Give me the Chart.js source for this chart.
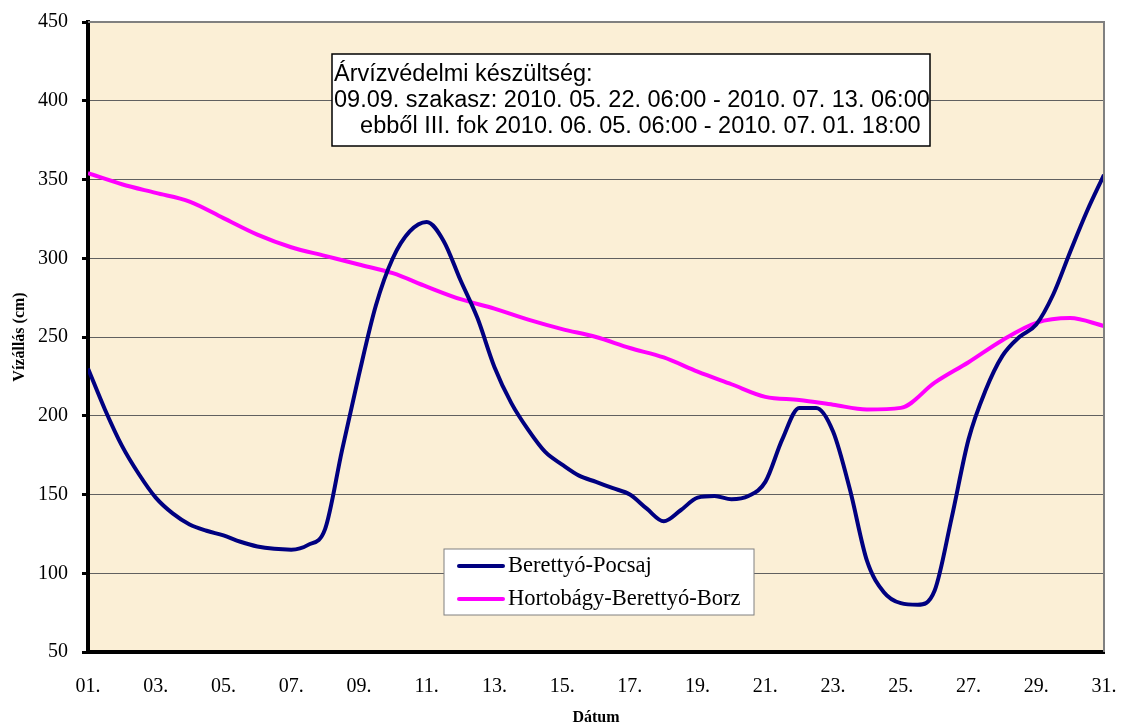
<!DOCTYPE html>
<html>
<head>
<meta charset="utf-8">
<script src="https://cdn.jsdelivr.net/npm/chart.js@4.4.0/dist/chart.umd.min.js"></script>
<style>
  html, body { margin: 0; padding: 0; background: #fff; }
</style>
</head>
<body>
<canvas id="myChart" width="1122" height="727"></canvas>
<script>
'use strict';

// Tick labels of the x axis (every second day)
let tickLabels = ['01.', '03.', '05.', '07.', '09.', '11.', '13.', '15.',
  '17.', '19.', '21.', '23.', '25.', '27.', '29.', '31.'];

// Berettyó-Pocsaj, read every half day
let pocsajDays = [1, 1.5, 2, 2.5, 3, 3.5, 4, 4.5, 5, 5.5, 6, 6.5, 7, 7.5, 8, 8.5,
  9, 9.5, 10, 10.5, 11, 11.5, 12, 12.5, 13, 13.5, 14, 14.5, 15, 15.5, 16, 16.5,
  17, 17.5, 18, 18.5, 19, 19.5, 20, 20.5, 21, 21.5, 22, 22.5, 23, 23.5, 24, 24.5,
  25, 25.5, 26, 26.5, 27, 27.5, 28, 28.5, 29, 29.5, 30, 30.5, 31];
let pocsajValues = [230, 204, 181, 163, 148, 138, 131, 127, 124, 120, 117, 115.5, 115, 118, 128, 178,
  226, 270, 300, 317, 323, 311, 286, 262, 231, 208, 191, 177, 169, 162, 158, 154,
  150, 141, 133, 140, 148, 149, 147, 149, 158, 185, 205, 205, 190, 153, 108, 88,
  81, 80, 89, 135, 185, 216, 238, 250, 258, 277, 304, 330, 353];

// Hortobágy-Berettyó-Borz, read every day
let borzDays = [1, 2, 3, 4, 5, 6, 7, 8, 9, 10, 11, 12, 13, 14, 15, 16,
  17, 18, 19, 20, 21, 22, 23, 24, 25, 26, 27, 28, 29, 30, 31];
let borzValues = [354, 347, 341.5, 336, 325.5, 315, 307, 301.5, 296, 290.5, 282, 274, 268, 261, 255, 250,
  243, 237, 228, 220, 212, 210, 207, 204, 205, 221, 234, 248, 259, 262, 257];

let noteLines = [
  'Árvízvédelmi készültség:',
  '09.09. szakasz: 2010. 05. 22. 06:00 - 2010. 07. 13. 06:00',
  '    ebből III. fok 2010. 06. 05. 06:00 - 2010. 07. 01. 18:00'
];

function toPoints(xs, ys) {
  let pts = [];
  for (let i = 0; i < xs.length; i++) {
    pts.push({ x: xs[i], y: ys[i] });
  }
  return pts;
}

// background of plot area, border, note box and legend
const boxesPlugin = {
  id: 'boxes',
  beforeDraw(chart) {
    let a = chart.chartArea;
    let ctx = chart.ctx;
    ctx.save();
    ctx.fillStyle = '#fbefd6';
    ctx.fillRect(a.left, a.top, a.right - a.left, a.bottom - a.top);
    ctx.restore();
  },
  afterDraw(chart) {
    let a = chart.chartArea;
    let ctx = chart.ctx;
    ctx.save();

    // gray top and right border
    ctx.strokeStyle = '#808080';
    ctx.lineWidth = 2;
    ctx.beginPath();
    ctx.moveTo(a.left, a.top);
    ctx.lineTo(a.right, a.top);
    ctx.lineTo(a.right, a.bottom);
    ctx.stroke();

    // note box
    ctx.fillStyle = '#fff';
    ctx.fillRect(332, 54, 598, 92);
    ctx.strokeStyle = '#000';
    ctx.lineWidth = 1.5;
    ctx.strokeRect(332, 54, 598, 92);
    ctx.fillStyle = '#000';
    ctx.font = '23.5px "Liberation Sans", Arial, sans-serif';
    ctx.textBaseline = 'middle';
    ctx.textAlign = 'left';
    for (let i = 0; i < noteLines.length; i++) {
      ctx.fillText(noteLines[i], 334, 75 + i * 26);
    }

    // legend
    ctx.fillStyle = '#fff';
    ctx.fillRect(444, 549, 310, 66);
    ctx.strokeStyle = '#808080';
    ctx.lineWidth = 1;
    ctx.strokeRect(444, 549, 310, 66);
    ctx.font = '22.5px "Liberation Serif", "Times New Roman", serif';
    chart.data.datasets.forEach(function (ds, i) {
      let y = 566 + i * 33;
      ctx.strokeStyle = ds.borderColor;
      ctx.lineWidth = 4;
      ctx.lineCap = 'round';
      ctx.beginPath();
      ctx.moveTo(459, y);
      ctx.lineTo(503, y);
      ctx.stroke();
      ctx.fillStyle = '#000';
      ctx.fillText(ds.label, 508, y);
    });
    ctx.restore();
  }
};

let ctx = document.getElementById('myChart');
let myChart = new Chart(ctx, {
  type: 'line',
  data: {
    datasets: [{
      label: 'Berettyó-Pocsaj',
      data: toPoints(pocsajDays, pocsajValues),
      borderColor: '#000080',
      borderWidth: 4,
      pointRadius: 0,
      cubicInterpolationMode: 'monotone'
    }, {
      label: 'Hortobágy-Berettyó-Borz',
      data: toPoints(borzDays, borzValues),
      borderColor: '#ff00ff',
      borderWidth: 4,
      pointRadius: 0,
      cubicInterpolationMode: 'monotone'
    }]
  },
  options: {
    responsive: false,
    animation: false,
    layout: { padding: { left: 0, right: 18, top: 22, bottom: 0 } },
    plugins: {
      legend: { display: false },
      tooltip: { enabled: false }
    },
    scales: {
      x: {
        type: 'linear',
        min: 1,
        max: 31,
        afterFit: function (scale) {
          scale.height = 75;
          scale.paddingLeft = 0;
          scale.paddingRight = 0;
        },
        border: { color: '#000', width: 4 },
        grid: { display: false },
        ticks: {
          stepSize: 2,
          padding: 15,
          color: '#000',
          font: { family: '"Liberation Serif", "Times New Roman", serif', size: 20 },
          callback: function (value) { return tickLabels[(value - 1) / 2]; }
        },
        title: {
          display: true,
          text: 'Dátum',
          color: '#000',
          font: { family: '"Liberation Serif", "Times New Roman", serif', size: 16, weight: 'bold' },
          padding: { top: 0, bottom: 0 }
        }
      },
      y: {
        min: 50,
        max: 450,
        afterFit: function (scale) {
          scale.width = 88;
          scale.paddingTop = 0;
          scale.paddingBottom = 0;
        },
        border: { color: '#000', width: 4 },
        grid: { color: '#606060', lineWidth: 1, tickColor: '#000', tickWidth: 3, tickLength: 6 },
        ticks: {
          stepSize: 50,
          padding: 14,
          color: '#000',
          font: { family: '"Liberation Serif", "Times New Roman", serif', size: 20 }
        },
        title: {
          display: true,
          text: 'Vízállás (cm)',
          color: '#000',
          font: { family: '"Liberation Serif", "Times New Roman", serif', size: 16, weight: 'bold' },
          padding: { top: 10, bottom: 0 }
        }
      }
    }
  },
  plugins: [boxesPlugin]
});
</script>
</body>
</html>
